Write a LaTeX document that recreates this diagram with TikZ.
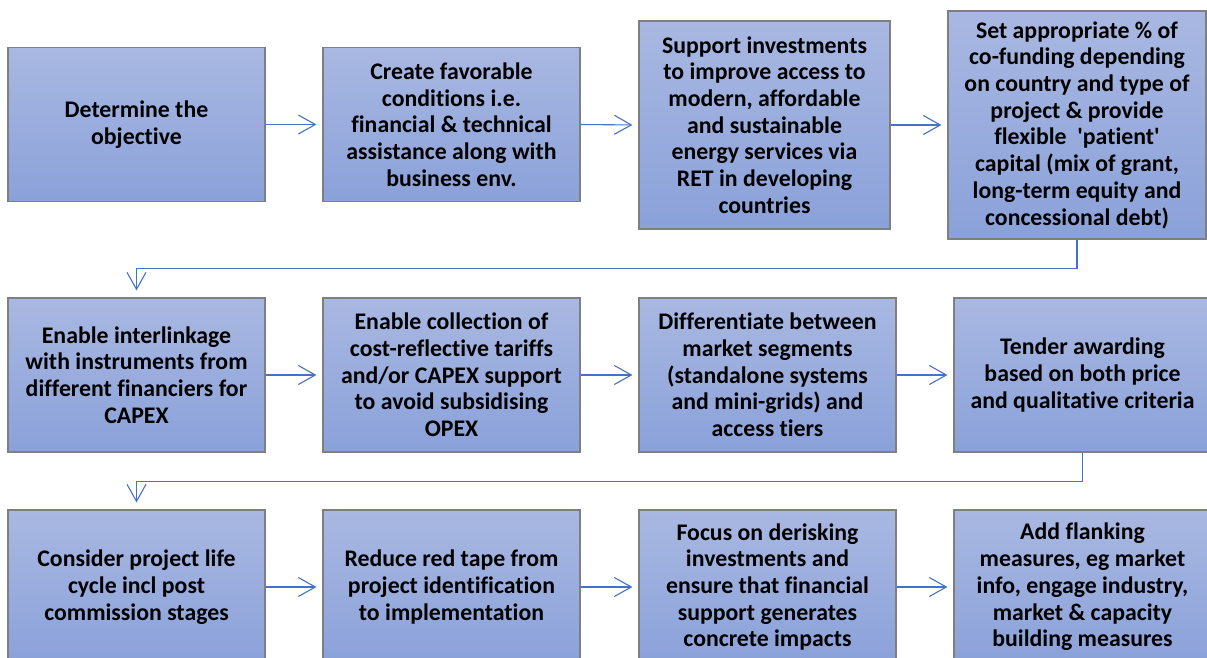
\documentclass[tikz,border=0pt]{standalone}
\usepackage{fontspec}
\setmainfont{Carlito}[Ligatures=NoCommon]
\usetikzlibrary{arrows.meta}
\definecolor{boxtop}{HTML}{A9B8E2}
\definecolor{boxbot}{HTML}{8AA1D9}
\definecolor{boxline}{HTML}{7F7F7F}
\definecolor{flow}{HTML}{4472C4}
\tikzset{
  stepbox/.style={draw=boxline, line width=1.1pt, top color=boxtop, bottom color=boxbot,
    minimum width=257pt, minimum height=154pt, inner sep=0pt, align=center,
    font=\bfseries\fontsize{23.8}{26.7}\selectfont},
  flowarrow/.style={draw=flow, line width=1.1pt, -{Straight Barb[length=17pt,width=19pt,line width=1.1pt]}},
}
\begin{document}
\begin{tikzpicture}[x=1pt,y=-1pt]
\useasboundingbox (0,0) rectangle (1207,657);

% first row
\node[stepbox] (a1) at (136.5,124.5) {Determine the\\objective};
\node[stepbox] (a2) at (451.5,124.5) {Create favorable\\conditions i.e.\\financial \& technical\\assistance along with\\business env.};
\node[stepbox, minimum width=251pt, minimum height=208pt] (a3) at (764.5,125) {Support investments\\to improve access to\\modern, affordable\\and sustainable\\energy services via\\RET in developing\\countries};
\node[stepbox, minimum width=258pt, minimum height=228pt] (a4) at (1077,125) {Set appropriate \% of\\co-funding depending\\on country and type of\\project \& provide\\flexible\ \ \textquotesingle patient\textquotesingle\\capital (mix of grant,\\long-term equity and\\concessional debt)};

% second row
\node[stepbox] (b1) at (136.5,375) {Enable interlinkage\\with instruments from\\different financiers for\\CAPEX};
\node[stepbox] (b2) at (451.5,375) {Enable collection of\\cost-reflective tariffs\\and/or CAPEX support\\to avoid subsidising\\OPEX};
\node[stepbox] (b3) at (767.5,375) {Differentiate between\\market segments\\(standalone systems\\and mini-grids) and\\access tiers};
\node[stepbox] (b4) at (1082.5,375) {Tender awarding\\based on both price\\and qualitative criteria};

% third row
\node[stepbox] (c1) at (136.5,587) {Consider project life\\cycle incl post\\commission stages};
\node[stepbox] (c2) at (451.5,587) {Reduce red tape from\\project identification\\to implementation};
\node[stepbox] (c3) at (767.5,587) {Focus on derisking\\investments and\\ensure that financial\\support generates\\concrete impacts};
\node[stepbox] (c4) at (1082.5,587) {Add flanking\\measures, eg market\\info, engage industry,\\market \& capacity\\building measures};

% connectors along each row
\draw[flowarrow, shorten >=6pt] (a1.east) -- (a2.west);
\draw[flowarrow, shorten >=6pt] (a2.east) -- (a3.west);
\draw[flowarrow, shorten >=6pt] (a3.east) -- (a4.west);
\draw[flowarrow, shorten >=6pt] (b1.east) -- (b2.west);
\draw[flowarrow, shorten >=6pt] (b2.east) -- (b3.west);
\draw[flowarrow, shorten >=6pt] (b3.east) -- (b4.west);
\draw[flowarrow, shorten >=6pt] (c1.east) -- (c2.west);
\draw[flowarrow, shorten >=6pt] (c2.east) -- (c3.west);
\draw[flowarrow, shorten >=6pt] (c3.east) -- (c4.west);

% returns to the start of the next row
\draw[flowarrow, shorten >=7pt] (a4.south) -- ++(0,29) -| (b1.north);
\draw[flowarrow, shorten >=7pt] (b4.south) -- ++(0,29) -| (c1.north);
\end{tikzpicture}
\end{document}
